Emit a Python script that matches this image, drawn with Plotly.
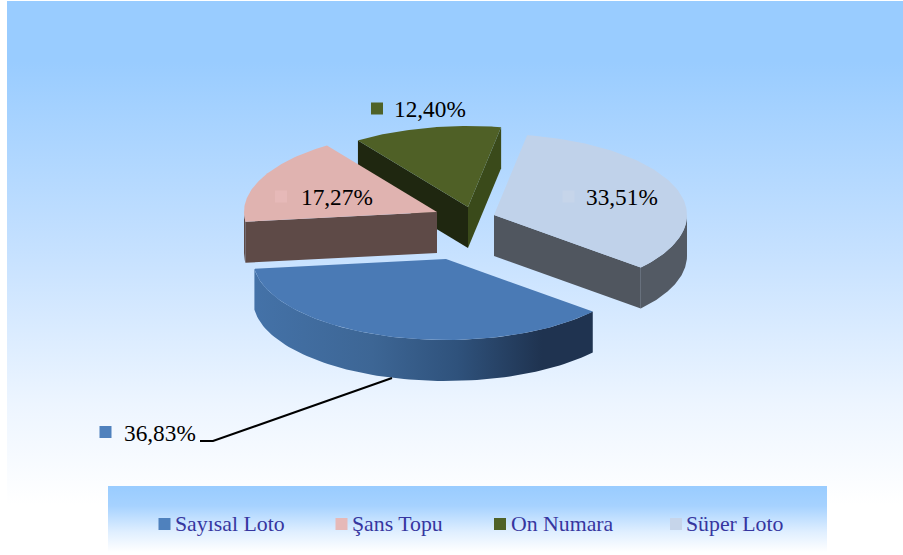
import numpy as np
import plotly.graph_objects as go

categories = ["Sayısal Loto", "Şans Topu", "On Numara", "Süper Loto"]
shares = [36.83, 17.27, 12.40, 33.51]

# ---- presentation constants (3-D pie projection) ----
W, H = 903, 555
ROTATION = 40.5            # degrees, clockwise from +x, where the first slice starts
RX, RY, DEPTH = 193, 81, 41
APEX = {"Sayısal Loto": (446, 259), "Şans Topu": (437, 212),
        "On Numara": (468, 207), "Süper Loto": (494, 215)}
TOP = {"Sayısal Loto": "#4A7AB5", "Şans Topu": "#E0B3B0",
       "On Numara": "#4F6026", "Süper Loto": "#C0D2EA"}
KEY = {"Sayısal Loto": "#4F81BD", "Şans Topu": "#E6B9B8",
       "On Numara": "#4F6228", "Süper Loto": "#C6D5EA"}
LABEL_MARK = {"Sayısal Loto": (105.5, 432), "Şans Topu": (281, 196.5),
              "On Numara": (377, 108.5), "Süper Loto": (568.5, 196.5)}
LABEL_TEXT_X = {"Sayısal Loto": 124, "Şans Topu": 301, "On Numara": 394, "Süper Loto": 586}
LEGEND_MARK_X = {"Sayısal Loto": 164.5, "Şans Topu": 341.5, "On Numara": 500, "Süper Loto": 676}
LEGEND_TEXT_X = {"Sayısal Loto": 175, "Şans Topu": 352, "On Numara": 511, "Süper Loto": 686}

fig = go.Figure()


def poly(xs, ys, color=None, gradient=None):
    xs = list(xs) + [xs[0]]
    ys = list(ys) + [ys[0]]
    kw = {"fillgradient": gradient} if gradient else {"fillcolor": color}
    fig.add_trace(go.Scatter(x=xs, y=ys, mode="lines", fill="toself",
                             line=dict(width=0), showlegend=False,
                             hoverinfo="skip", **kw))


def rim(c, t0, t1, dy=0):
    t = np.radians(np.linspace(t0, t1, 80))
    return c[0] + RX * np.cos(t), c[1] + RY * np.sin(t) + dy


def cut_wall(c, t, color):
    x, y = rim(c, t, t)
    poly([c[0], x[0], x[0], c[0]], [c[1], y[0], y[0] + DEPTH, c[1] + DEPTH], color)


def arc_wall(c, t0, t1, color=None, gradient=None):
    x0, y0 = rim(c, t0, t1)
    x1, y1 = rim(c, t0, t1, DEPTH)
    poly(list(x0) + list(x1[::-1]), list(y0) + list(y1[::-1]), color, gradient)


def top_face(name, t0, t1):
    c = APEX[name]
    x, y = rim(c, t0, t1)
    poly([c[0]] + list(x), [c[1]] + list(y), TOP[name])


# page and legend band gradients
fig.add_trace(go.Scatter(x=[7, W, W, 7, 7], y=[1, 1, 505, 505, 1], mode="lines", fill="toself",
                         line=dict(width=0), showlegend=False, hoverinfo="skip",
                         fillgradient=dict(type="vertical", start=1, stop=505,
                                           colorscale=[[0, "#99CCFF"], [0.12, "#99CCFF"],
                                                       [0.5, "#C6E1FF"], [0.8, "#EDF5FF"],
                                                       [1, "#FFFFFF"]])))
fig.add_trace(go.Scatter(x=[108, 827, 827, 108, 108], y=[486, 486, 552, 552, 486], mode="lines",
                         fill="toself", line=dict(width=0), showlegend=False, hoverinfo="skip",
                         fillgradient=dict(type="vertical", start=486, stop=552,
                                           colorscale=[[0, "#99CCFF"], [0.3, "#A6D2FF"],
                                                       [0.7, "#E0EFFF"], [1, "#FFFFFF"]])))

# slice angles derived from the values
angles = {}
a = ROTATION
for name, s in zip(categories, shares):
    angles[name] = (a, a + s / sum(shares) * 360)
    a = angles[name][1]

# green
n = "On Numara"
t0, t1 = angles[n]
cut_wall(APEX[n], t0, "#1F2710")
cut_wall(APEX[n], t1, "#3A4A1A")
top_face(n, t0, t1)

# light blue
n = "Süper Loto"
t0, t1 = angles[n]
arc_wall(APEX[n], 360, t1, "#535A64")
cut_wall(APEX[n], t1, "#50565F")
top_face(n, t0, t1)

# pink
n = "Şans Topu"
t0, t1 = angles[n]
arc_wall(APEX[n], t0, 180, "#5E4A47")
cut_wall(APEX[n], t0, "#5E4A47")
top_face(n, t0, t1)

# blue
n = "Sayısal Loto"
t0, t1 = angles[n]
arc_wall(APEX[n], t0, t1, gradient=dict(
    type="horizontal", start=253, stop=593,
    colorscale=[[0, "#4472A8"], [0.35, "#3D6695"], [0.6, "#2F527C"], [0.85, "#1F3350"], [1, "#1F3350"]]))
top_face(n, t0, t1)

# leader line for the first label
fig.add_trace(go.Scatter(x=[200, 213, 392], y=[441, 441, 378], mode="lines",
                         line=dict(color="black", width=2), showlegend=False, hoverinfo="skip"))

# data-label and legend key squares
for n in categories:
    mx, my = LABEL_MARK[n]
    fig.add_trace(go.Scatter(x=[mx, LEGEND_MARK_X[n]], y=[my, 524], mode="markers", showlegend=False,
                             hoverinfo="skip",
                             marker=dict(symbol="square", size=12, color=KEY[n], line=dict(width=0))))

annotations = []
for n, s in zip(categories, shares):
    annotations.append(dict(x=LABEL_TEXT_X[n], y=LABEL_MARK[n][1] + 0.5, xref="x", yref="y",
                            text=f"{s:.2f}%".replace(".", ","), showarrow=False,
                            xanchor="left", yanchor="middle", xshift=-2,
                            font=dict(family="Liberation Serif", size=23.3, color="black")))
    annotations.append(dict(x=LEGEND_TEXT_X[n], y=524, xref="x", yref="y", text=n, showarrow=False,
                            xanchor="left", yanchor="middle", xshift=-2,
                            font=dict(family="Liberation Serif", size=21.8, color="#3636A0")))

fig.update_layout(width=W, height=H, margin=dict(l=0, r=0, t=0, b=0), autosize=False,
                  paper_bgcolor="white", plot_bgcolor="white", showlegend=False,
                  annotations=annotations,
                  xaxis=dict(range=[0, W], visible=False, fixedrange=True),
                  yaxis=dict(range=[H, 0], visible=False, fixedrange=True))
fig.write_html("out.html", config=dict(displayModeBar=False),
               post_script="document.body.style.margin='0';")
